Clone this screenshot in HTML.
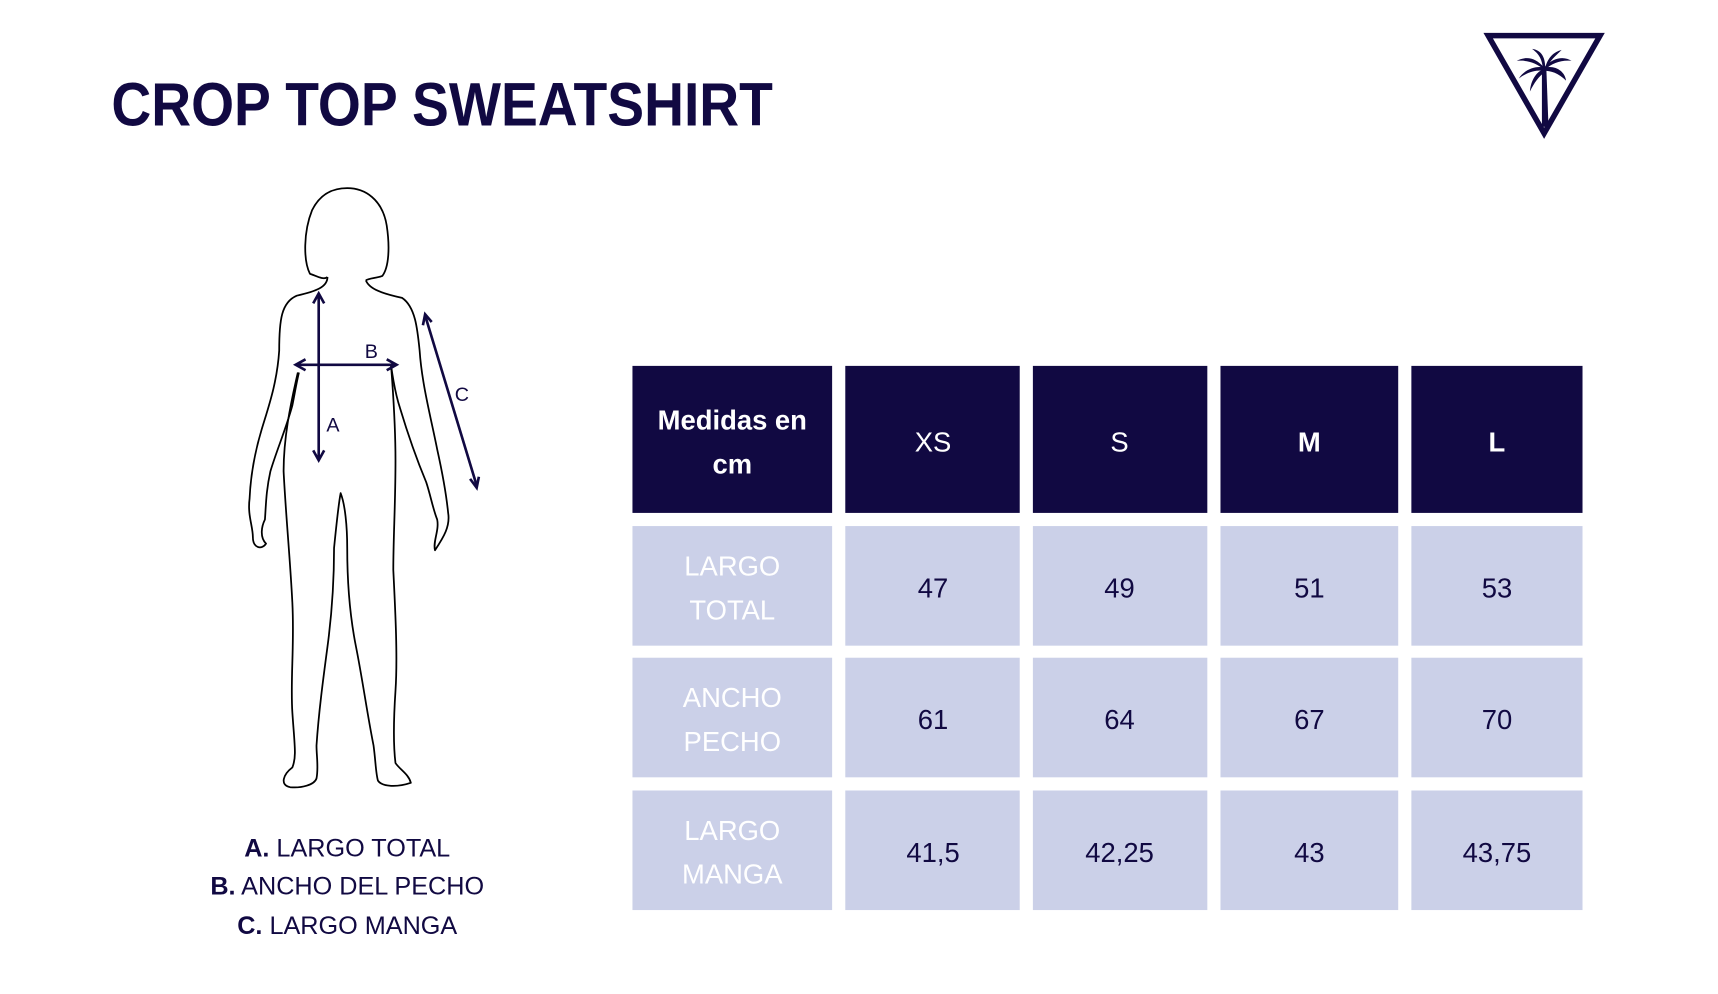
<!DOCTYPE html>
<html><head><meta charset="utf-8"><style>html,body{margin:0;padding:0;background:#fff;width:1718px;height:994px;overflow:hidden}svg{display:block}</style></head>
<body>
<svg width="1718" height="994" viewBox="1.5 0.5 1566 906" preserveAspectRatio="none" xmlns="http://www.w3.org/2000/svg" font-family="Liberation Sans, sans-serif">
<rect x="0" y="0" width="1600" height="1000" fill="#fff"/>
<text x="103" y="115" font-size="56" font-weight="bold" fill="#110942" textLength="603" lengthAdjust="spacingAndGlyphs">CROP TOP SWEATSHIRT</text>
<polygon points="1358,33 1460,33 1409,122" fill="none" stroke="#110942" stroke-width="5" stroke-linejoin="miter"/>
<g fill="#110942">
<path d="M1407,62 L1411,62 L1413,116 L1407,116 Z"/>
<path d="M1409,62 C1400,52 1392,52 1384,56 C1394,55 1402,58 1409,64 Z"/>
<path d="M1409,62 C1400,60 1390,65 1386,72 C1394,66 1402,64 1409,65 Z"/>
<path d="M1409,63 C1402,66 1397,73 1396,84 C1400,76 1404,70 1410,66 Z"/>
<path d="M1409,62 C1418,52 1428,52 1434,56 C1425,55 1416,58 1410,64 Z"/>
<path d="M1410,62 C1420,60 1428,66 1429,74 C1422,67 1415,65 1409,65 Z"/>
<path d="M1410,62 C1410,52 1406,46 1398,45 C1405,50 1407,55 1408,63 Z"/>
<path d="M1410,62 C1413,52 1418,48 1425,46 C1419,52 1414,56 1411,63 Z"/>
</g>
<g fill="none" stroke="#000" stroke-width="1.6" stroke-linejoin="round">
<path d="M300,253 C296,256 290,252 284,250 C278,238 278,212 286,192 C294,176 306,172 318,172 C334,172 350,182 354,206 C357,226 356,244 350,252 C345,254 338,254 335,256"/>
<path d="M300,253 C300,262 290,266 272,270 C258,276 256,292 256,320 C254,350 246,372 240,392 C234,412 230,432 229,455 C227,470 232,480 232,490 C232,500 240,502 244,496 C238,490 240,480 243,474 C244,460 244,448 248,430 C254,410 262,392 268,370 C270,360 272,348 274,340"/>
<path d="M335,256 C338,264 350,268 368,272 C380,280 382,300 384,320 C386,350 394,380 400,410 C404,428 408,448 410,468 C412,480 406,490 398,502 C396,494 402,484 400,474 C396,464 394,452 390,440 C380,416 372,392 366,372 C362,360 360,348 358,334"/>
<path d="M273,340 C266,370 260,400 260,430 C262,470 266,510 268,550 C270,590 266,620 268,650 C270,680 272,690 268,700 C260,706 256,716 266,718 C276,719 288,716 290,710 C292,700 290,690 290,680 C292,650 296,620 300,590 C304,560 306,530 306,500 C308,480 310,460 312,450 C316,460 318,480 318,500 C318,530 320,560 326,590 C332,620 336,650 342,680 C344,695 344,705 346,712 C350,718 364,718 376,714 C374,706 366,702 362,696 C360,680 360,660 362,630 C364,600 362,560 360,520 C360,490 362,460 362,420 C362,390 360,360 358,334"/>
</g>
<g stroke="#110942" stroke-width="2.4" fill="#110942">
<line x1="292" y1="270" x2="292" y2="418"/>
<polyline points="287,277 292,268 297,277" fill="none"/>
<polyline points="287,411 292,420 297,411" fill="none"/>
<line x1="273" y1="333" x2="361" y2="333"/>
<polyline points="280,328 271,333 280,338" fill="none"/>
<polyline points="354,328 363,333 354,338" fill="none"/>
<line x1="389" y1="288" x2="436" y2="443"/>
<polyline points="387,297 389,287 395,294" fill="none"/>
<polyline points="430,437 436,445 438,435" fill="none"/>
</g>
<g font-size="18" fill="#110942">
<text x="299" y="394">A</text>
<text x="334" y="327">B</text>
<text x="416" y="366">C</text>
</g>
<g font-size="23" fill="#110942" text-anchor="middle">
<text x="318" y="781"><tspan font-weight="bold">A.</tspan> LARGO TOTAL</text>
<text x="318" y="816"><tspan font-weight="bold">B.</tspan> ANCHO DEL PECHO</text>
<text x="318" y="852"><tspan font-weight="bold">C.</tspan> LARGO MANGA</text>
</g>
<g fill="#110942">
<rect x="578" y="334" width="182" height="134"/>
<rect x="772" y="334" width="159" height="134"/>
<rect x="943" y="334" width="159" height="134"/>
<rect x="1114" y="334" width="162" height="134"/>
<rect x="1288" y="334" width="156" height="134"/>
</g>
<g fill="#cbd0e8">
<rect x="578" y="480" width="182" height="109"/><rect x="772" y="480" width="159" height="109"/><rect x="943" y="480" width="159" height="109"/><rect x="1114" y="480" width="162" height="109"/><rect x="1288" y="480" width="156" height="109"/>
<rect x="578" y="600" width="182" height="109"/><rect x="772" y="600" width="159" height="109"/><rect x="943" y="600" width="159" height="109"/><rect x="1114" y="600" width="162" height="109"/><rect x="1288" y="600" width="156" height="109"/>
<rect x="578" y="721" width="182" height="109"/><rect x="772" y="721" width="159" height="109"/><rect x="943" y="721" width="159" height="109"/><rect x="1114" y="721" width="162" height="109"/><rect x="1288" y="721" width="156" height="109"/>
</g>
<g font-size="25" fill="#fff" text-anchor="middle">
<text x="669" y="392" font-weight="bold">Medidas en</text>
<text x="669" y="432" font-weight="bold">cm</text>
<text x="852" y="412">XS</text>
<text x="1022" y="412">S</text>
<text x="1195" y="412" font-weight="bold">M</text>
<text x="1366" y="412" font-weight="bold">L</text>
<text x="669" y="525">LARGO</text><text x="669" y="565">TOTAL</text>
<text x="669" y="645">ANCHO</text><text x="669" y="685">PECHO</text>
<text x="669" y="766">LARGO</text><text x="669" y="806">MANGA</text>
</g>
<g font-size="25" fill="#110942" text-anchor="middle">
<text x="852" y="545">47</text><text x="1022" y="545">49</text><text x="1195" y="545">51</text><text x="1366" y="545">53</text>
<text x="852" y="665">61</text><text x="1022" y="665">64</text><text x="1195" y="665">67</text><text x="1366" y="665">70</text>
<text x="852" y="786">41,5</text><text x="1022" y="786">42,25</text><text x="1195" y="786">43</text><text x="1366" y="786">43,75</text>
</g>
</svg>
</body></html>
